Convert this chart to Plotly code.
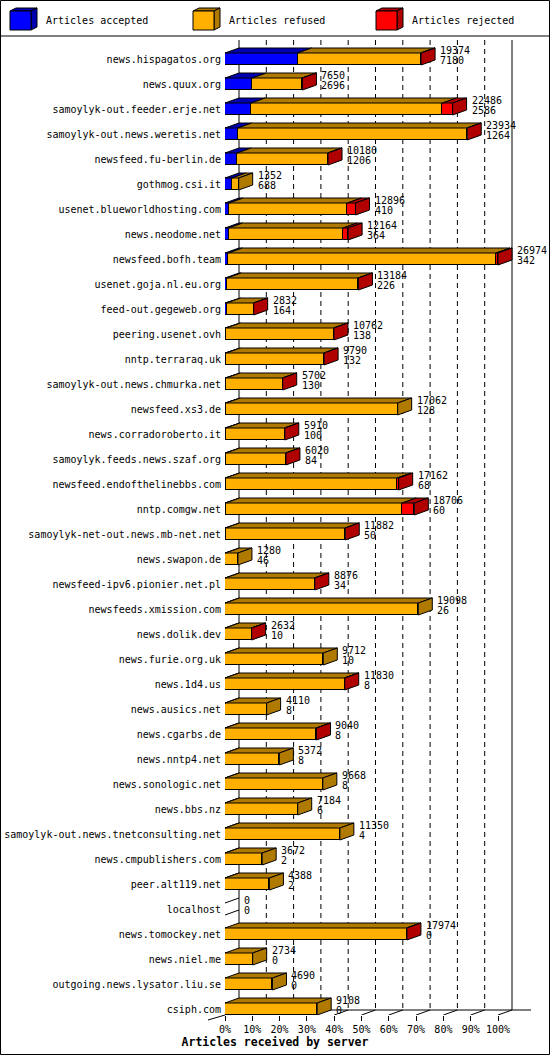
import plotly.graph_objects as go

# ---------------- data ----------------
servers = [
    "news.hispagatos.org", "news.quux.org", "samoylyk-out.feeder.erje.net",
    "samoylyk-out.news.weretis.net", "newsfeed.fu-berlin.de", "gothmog.csi.it",
    "usenet.blueworldhosting.com", "news.neodome.net", "newsfeed.bofh.team",
    "usenet.goja.nl.eu.org", "feed-out.gegeweb.org", "peering.usenet.ovh",
    "nntp.terraraq.uk", "samoylyk-out.news.chmurka.net", "newsfeed.xs3.de",
    "news.corradoroberto.it", "samoylyk.feeds.news.szaf.org",
    "newsfeed.endofthelinebbs.com", "nntp.comgw.net",
    "samoylyk-net-out.news.mb-net.net", "news.swapon.de",
    "newsfeed-ipv6.pionier.net.pl", "newsfeeds.xmission.com", "news.dolik.dev",
    "news.furie.org.uk", "news.1d4.us", "news.ausics.net", "news.cgarbs.de",
    "news.nntp4.net", "news.sonologic.net", "news.bbs.nz",
    "samoylyk-out.news.tnetconsulting.net", "news.cmpublishers.com",
    "peer.alt119.net", "localhost", "news.tomockey.net", "news.niel.me",
    "outgoing.news.lysator.liu.se", "csiph.com",
]
offered = [19374, 7650, 22486, 23934, 10180, 1352, 12896, 12164, 26974, 13184,
           2832, 10762, 9790, 5702, 17062, 5910, 6020, 17162, 18706, 11882,
           1280, 8876, 19098, 2632, 9712, 11830, 4110, 9040, 5372, 9668,
           7184, 11350, 3672, 4388, 0, 17974, 2734, 4690, 9108]
accepted = [7180, 2696, 2586, 1264, 1206, 688, 410, 364, 342, 226,
            164, 138, 132, 130, 128, 100, 84, 68, 60, 50,
            46, 34, 26, 10, 10, 8, 8, 8, 8, 8,
            6, 4, 2, 2, 0, 0, 0, 0, 0]
refused = [12164, 4934, 18900, 22650, 8954, 664, 11686, 11300, 26432, 12938,
           2658, 10604, 9638, 5562, 16934, 5800, 5926, 16944, 17456, 11812,
           1234, 8822, 19072, 2612, 9702, 11802, 4102, 9022, 5364, 9660,
           7178, 11346, 3670, 4386, 0, 17954, 2734, 4690, 9108]
rejected = [30, 20, 1000, 20, 20, 0, 800, 500, 200, 20,
            10, 20, 20, 10, 0, 10, 10, 150, 1190, 20,
            0, 20, 0, 10, 0, 20, 0, 10, 0, 0,
            0, 0, 0, 0, 0, 20, 0, 0, 0]
series_names = ["Articles accepted", "Articles refused", "Articles rejected"]
x_ticks = [0, 10, 20, 30, 40, 50, 60, 70, 80, 90, 100]
x_title = "Articles received by server"

# ---------------- style ----------------
FRONT = ["#0000FF", "#FFB000", "#FF0000"]
DARK = ["#0000B0", "#B07A00", "#B00000"]
FONT = "DejaVu Sans Mono"

W, H = 550, 1055
ML, MR, MT, MB = 225, 37, 40, 40
PW, PH = W - ML - MR, H - MT - MB
PX_PER_PCT = 2.73
XMAX = PW / PX_PER_PCT
PITCH = 25.0
Y_TOP = -19 / PITCH
Y_BOT = (len(servers) - 1) + 6 / PITCH
DXP, DYP = 14, 5                 # 3D depth in pixels
DX = DXP / PX_PER_PCT            # in % units
DY = DYP / PITCH                 # in row units
HALF = 6 / PITCH                 # half bar thickness
BACK_BASE = Y_BOT - DY


def fx(px):
    return (px - ML) / PW


def fy(py):
    return 1 - (py - MT) / PH


maxv = max(offered)
rows = list(range(len(servers)))
segs = [accepted, refused, rejected]
pcts = [[v / maxv * 100 for v in s] for s in segs]
tot_pct = [v / maxv * 100 for v in offered]

fig = go.Figure()

# front faces: stacked bars
for k in range(3):
    fig.add_trace(go.Bar(
        y=rows, x=pcts[k], orientation="h", width=2 * HALF,
        marker=dict(color=FRONT[k], line=dict(color="black", width=1)),
        name=series_names[k], showlegend=False, hoverinfo="skip"))

# top faces & side faces
top_x = [[], [], []]
top_y = [[], [], []]
side_x = [[], [], []]
side_y = [[], [], []]
empty_x, empty_y = [], []
for i in rows:
    top = i - HALF
    bot = i + HALF
    start = 0.0
    last = None
    for k in range(3):
        w = pcts[k][i]
        if w > 0:
            x0, x1 = start, start + w
            top_x[k] += [x0, x0 + DX, x1 + DX, x1, x0, None]
            top_y[k] += [top, top - DY, top - DY, top, top, None]
            start = x1
            last = k
    if last is None:
        empty_x += [start, start + DX, None, start, start + DX, None]
        empty_y += [top, top - DY, None, bot, bot - DY, None]
    else:
        side_x[last] += [start, start + DX, start + DX, start, start, None]
        side_y[last] += [top, top - DY, bot - DY, bot, top, None]

for k in range(3):
    fig.add_trace(go.Scatter(
        x=top_x[k], y=top_y[k], mode="lines", fill="toself",
        fillcolor=DARK[k], line=dict(color="black", width=1),
        showlegend=False, hoverinfo="skip"))
for k in range(3):
    fig.add_trace(go.Scatter(
        x=side_x[k], y=side_y[k], mode="lines", fill="toself",
        fillcolor=DARK[k], line=dict(color="black", width=1),
        showlegend=False, hoverinfo="skip"))
fig.add_trace(go.Scatter(x=empty_x, y=empty_y, mode="lines",
                         line=dict(color="black", width=1),
                         showlegend=False, hoverinfo="skip"))

# value labels (offered / accepted)
ann = []
for i in rows:
    ann.append(dict(x=tot_pct[i], y=i, text=str(offered[i]), showarrow=False,
                    xanchor="left", yanchor="middle", xshift=DXP + 3, yshift=9,
                    font=dict(family=FONT, size=10, color="black")))
    ann.append(dict(x=tot_pct[i], y=i, text=str(accepted[i]), showarrow=False,
                    xanchor="left", yanchor="middle", xshift=DXP + 3, yshift=-1.7,
                    font=dict(family=FONT, size=10, color="black")))

# legend texts
LEG_X = [10, 193, 376]
for k in range(3):
    ann.append(dict(x=fx(LEG_X[k] + 34), y=fy(20.5), xref="paper", yref="paper",
                    text=series_names[k], showarrow=False, xanchor="left",
                    yanchor="middle", font=dict(family=FONT, size=10, color="black")))

shapes = []
# back wall grid lines
for p in x_ticks[1:-1]:
    shapes.append(dict(type="line", xref="x", yref="y", x0=p + DX, x1=p + DX,
                       y0=Y_TOP, y1=BACK_BASE, layer="below",
                       line=dict(color="black", width=1, dash="5px,4px")))
for p in (0, 100):
    shapes.append(dict(type="line", xref="x", yref="y", x0=p + DX, x1=p + DX,
                       y0=Y_TOP, y1=BACK_BASE, layer="below",
                       line=dict(color="black", width=1)))
# floor
shapes.append(dict(type="line", xref="paper", yref="y", x0=fx(ML + DXP), x1=fx(531),
                   y0=BACK_BASE, y1=BACK_BASE, layer="below",
                   line=dict(color="black", width=1)))
for p in x_ticks:
    shapes.append(dict(type="line", xref="x", yref="y", x0=p, x1=p + DX,
                       y0=Y_BOT, y1=BACK_BASE, layer="below",
                       line=dict(color="black", width=1)))
shapes.append(dict(type="line", xref="paper", yref="paper", x0=fx(208), x1=fx(225),
                   y0=fy(1020), y1=fy(1015), line=dict(color="black", width=1)))

# legend boxes
for k in range(3):
    x0 = LEG_X[k]
    x1 = x0 + 21
    y0, y1 = 11, 30
    dx, dy = 6, 3
    shapes.append(dict(type="path", xref="paper", yref="paper",
                       path=f"M{fx(x0)},{fy(y0)} L{fx(x0+dx)},{fy(y0-dy)} L{fx(x1+dx)},{fy(y0-dy)} L{fx(x1)},{fy(y0)} Z",
                       fillcolor=DARK[k], line=dict(color="black", width=1)))
    shapes.append(dict(type="path", xref="paper", yref="paper",
                       path=f"M{fx(x1)},{fy(y0)} L{fx(x1+dx)},{fy(y0-dy)} L{fx(x1+dx)},{fy(y1-dy)} L{fx(x1)},{fy(y1)} Z",
                       fillcolor=DARK[k], line=dict(color="black", width=1)))
    shapes.append(dict(type="rect", xref="paper", yref="paper",
                       x0=fx(x0), x1=fx(x1), y0=fy(y0), y1=fy(y1),
                       fillcolor=FRONT[k], line=dict(color="black", width=1)))

# frame and separator
shapes.append(dict(type="rect", xref="paper", yref="paper", x0=fx(0.5), x1=fx(549.5),
                   y0=fy(0.5), y1=fy(1054.5), line=dict(color="black", width=1)))
shapes.append(dict(type="line", xref="paper", yref="paper", x0=fx(0.5), x1=fx(549.5),
                   y0=fy(36), y1=fy(36), line=dict(color="black", width=1)))

fig.update_layout(
    template="none",
    width=W, height=H, autosize=False,
    margin=dict(l=ML, r=MR, t=MT, b=MB, pad=0),
    paper_bgcolor="white", plot_bgcolor="white",
    barmode="stack", bargap=0,
    showlegend=False,
    annotations=ann, shapes=shapes,
    title=dict(text=x_title, x=0.5, xref="container", xanchor="center",
               y=1 - 1042 / H, yref="container", yanchor="middle",
               font=dict(family=FONT, size=11.5, color="black", weight="bold")),
    xaxis=dict(range=[0, XMAX], tickmode="array", tickvals=x_ticks,
               ticktext=[f"{t}%" for t in x_ticks], ticks="outside", ticklen=5,
               tickcolor="black", tickwidth=1, showgrid=False, zeroline=False,
               showline=False, fixedrange=True, automargin=False,
               tickfont=dict(family=FONT, size=10, color="black")),
    yaxis=dict(range=[Y_BOT, Y_TOP], tickmode="array", tickvals=rows,
               ticktext=servers, ticks="", showgrid=False, zeroline=False,
               showline=False, fixedrange=True, automargin=False,
               ticklabelstandoff=3,
               tickfont=dict(family=FONT, size=10, color="black")),
)

fig.write_html("out.html", config={"displayModeBar": False},
               post_script="document.body.style.margin='0';document.body.style.overflow='hidden';")
